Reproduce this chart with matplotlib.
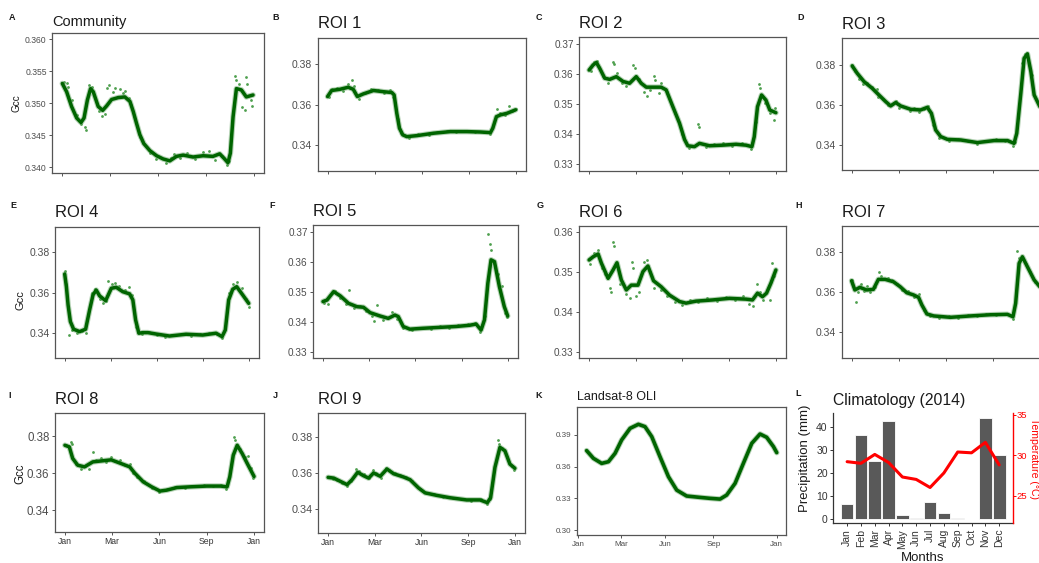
import matplotlib
matplotlib.use('Agg')
import matplotlib.pyplot as plt

plt.rcParams['font.family'] = ['Liberation Sans', 'DejaVu Sans']

# ---------------- data (x in months since Jan, 0..12) ----------------
x_tick_labels = ['Jan', 'Mar', 'Jun', 'Sep', 'Jan']

a_line_m = [0.0,0.27,0.58,0.90,1.17,1.36,1.57,1.77,1.94,2.25,2.53,2.78,3.09,3.51,3.92,4.24,4.45,4.65,4.86,5.11,5.49,5.91,6.32,6.74,7.16,7.58,8.20,8.83,9.45,9.87,10.18,10.39,10.54,10.71,10.92,11.23,11.54,11.96]
a_line_v = [0.3531,0.3518,0.3495,0.3477,0.3470,0.3477,0.3505,0.3523,0.3518,0.3495,0.3489,0.3496,0.3506,0.3509,0.3510,0.3503,0.3487,0.3469,0.3451,0.3437,0.3426,0.3418,0.3413,0.3410,0.3417,0.3419,0.3416,0.3418,0.3417,0.3421,0.3413,0.3407,0.3422,0.3479,0.3523,0.3521,0.3510,0.3513]
a_dot_m = [0.1,0.3,0.35,0.6,0.9,1.4,1.5,1.2,1.7,1.85,2.3,2.5,2.65,2.8,2.9,3.2,3.3,3.6,3.8,3.95,4.2,4.3,4.5,4.9,5.5,5.9,6.5,6.8,7.0,7.4,7.8,8.3,8.8,9.2,9.6,10.0,10.3,10.45,10.8,10.9,11.1,11.3,11.45,11.5,11.6,11.9,11.85]
a_dot_v = [0.3534,0.3532,0.3525,0.3505,0.3482,0.3463,0.3459,0.3468,0.3528,0.3526,0.3488,0.3480,0.3484,0.3524,0.3528,0.3517,0.3524,0.3523,0.3516,0.3520,0.3508,0.3498,0.3480,0.3447,0.3422,0.3413,0.3407,0.3414,0.3421,0.3414,0.3422,0.3413,0.3424,0.3426,0.3412,0.3418,0.3404,0.3410,0.3543,0.3537,0.3530,0.3495,0.3490,0.3541,0.3530,0.3496,0.3505]

b_line_m = [0,0.26,0.79,1.32,1.64,1.90,2.28,2.93,3.57,4.10,4.25,4.42,4.59,4.80,5.06,5.70,6.77,7.84,8.90,9.76,10.40,10.55,10.78,11.04,11.46,12.0]
b_line_v = [0.364,0.367,0.3676,0.3686,0.3676,0.364,0.3653,0.367,0.3664,0.366,0.3648,0.3557,0.3483,0.345,0.3441,0.3446,0.3458,0.3466,0.3466,0.3464,0.3461,0.3483,0.354,0.3549,0.3557,0.3574]
b_dot_m = [0.1,0.3,0.6,1.0,1.3,1.55,1.7,2.0,2.4,2.8,3.2,3.6,4.0,4.2,4.5,4.7,5.2,5.8,6.5,7.0,7.6,8.2,8.8,9.4,10.0,10.4,10.8,11.0,11.3,11.6,11.8,12.0]
b_dot_v = [0.3636,0.3675,0.3682,0.3668,0.3700,0.3722,0.3690,0.3630,0.3660,0.3678,0.3672,0.3656,0.3670,0.3640,0.3530,0.3460,0.3436,0.3452,0.3450,0.3464,0.3470,0.3462,0.3470,0.3462,0.3466,0.3452,0.3578,0.3560,0.3546,0.3592,0.3570,0.3580]

c_line_m = [0,0.26,0.47,0.68,1.0,1.32,1.75,2.18,2.60,3.03,3.35,3.67,4.10,4.63,4.95,5.38,5.81,6.13,6.34,6.77,7.09,7.73,8.58,9.44,10.08,10.46,10.61,10.82,11.08,11.36,11.61,12.0]
c_line_v = [0.3614,0.3631,0.3639,0.362,0.3587,0.3583,0.3592,0.3576,0.357,0.3592,0.357,0.3557,0.3557,0.3557,0.3548,0.3492,0.3437,0.3383,0.3362,0.3359,0.337,0.3362,0.3364,0.3367,0.3364,0.3359,0.3392,0.3492,0.3531,0.3514,0.3481,0.3472]
c_dot_m = [0.1,0.3,0.5,0.9,1.2,1.55,1.6,1.8,2.1,2.4,2.85,2.95,3.2,3.5,3.7,3.9,4.2,4.25,4.6,4.5,5.0,5.5,6.0,6.4,7.0,7.05,7.5,8.0,8.6,9.2,9.8,10.4,10.7,10.9,11.0,11.3,11.6,11.9,11.95]
c_dot_v = [0.3610,0.3640,0.3644,0.3595,0.3570,0.3640,0.3633,0.3605,0.3570,0.3562,0.3631,0.3620,0.3585,0.3540,0.3526,0.3548,0.3595,0.3580,0.3570,0.3538,0.3540,0.3470,0.3400,0.3355,0.3436,0.3426,0.3358,0.3368,0.3370,0.3362,0.3370,0.3352,0.3440,0.3567,0.3555,0.3505,0.3470,0.3448,0.3488]

d_line_m = [0.04,0.36,0.79,1.32,1.74,2.17,2.49,2.81,3.13,3.77,4.40,4.83,5.09,5.36,5.68,6.11,6.96,8.02,9.09,9.94,10.36,10.53,10.79,11.0,11.21,11.43,11.64,12.0]
d_line_v = [0.3795,0.3758,0.3717,0.3683,0.365,0.3617,0.3595,0.3612,0.3595,0.3578,0.3575,0.3588,0.3558,0.3475,0.3442,0.3428,0.3425,0.3412,0.3422,0.3422,0.3408,0.3458,0.3658,0.3833,0.3855,0.3767,0.365,0.3592]
d_dot_m = [0.05,0.2,0.5,0.7,1.0,1.3,1.6,1.7,2.0,2.3,2.6,2.8,3.0,3.4,3.7,4.0,4.3,4.6,4.85,5.2,5.6,6.2,6.8,7.4,8.0,8.6,9.2,9.8,10.3,10.4,10.85,11.05,11.2,11.5]
d_dot_v = [0.3800,0.3770,0.3730,0.3705,0.3710,0.3690,0.3678,0.3640,0.3630,0.3600,0.3605,0.3620,0.3585,0.3590,0.3570,0.3585,0.3565,0.3580,0.3595,0.3500,0.3435,0.3422,0.3432,0.3420,0.3405,0.3420,0.3430,0.3418,0.3395,0.3415,0.3810,0.3855,0.3860,0.3750]

e_line_m = [0,0.11,0.22,0.37,0.58,0.97,1.36,1.62,1.84,2.05,2.27,2.66,3.03,3.35,3.78,4.22,4.43,4.61,4.82,5.08,5.41,5.95,6.81,7.89,8.97,9.84,10.23,10.44,10.66,10.92,11.18,11.57,11.96]
e_line_v = [0.3692,0.3629,0.3538,0.3455,0.3417,0.3405,0.3417,0.3513,0.3588,0.3612,0.3583,0.3559,0.3621,0.3626,0.3604,0.3593,0.3563,0.3463,0.3397,0.34,0.34,0.3393,0.3383,0.3392,0.3388,0.3397,0.338,0.3413,0.3563,0.3616,0.3629,0.3588,0.3546]
e_dot_m = [0.03,0.1,0.3,0.5,0.8,1.1,1.4,1.8,2.0,2.3,2.5,2.7,2.8,3.1,3.3,3.55,3.9,4.2,4.35,4.65,5.0,5.5,6.0,6.5,7.0,7.6,8.2,8.8,9.4,9.9,10.2,10.7,10.95,11.2,11.5,11.8,11.95]
e_dot_v = [0.3705,0.3640,0.3388,0.3412,0.3400,0.3410,0.3400,0.3600,0.3618,0.3570,0.3550,0.3560,0.3659,0.3640,0.3645,0.3630,0.3610,0.3629,0.3590,0.3430,0.3395,0.3404,0.3388,0.3380,0.3390,0.3394,0.3385,0.3392,0.3396,0.3392,0.3372,0.3600,0.3640,0.3652,0.3620,0.3570,0.3530]

f_line_m = [0,0.26,0.69,1.12,1.66,2.20,2.63,3.06,3.70,4.24,4.67,4.89,5.21,5.64,6.50,7.58,8.66,9.52,9.95,10.27,10.49,10.71,10.92,11.14,11.46,11.78,12.0]
f_line_v = [0.3469,0.3474,0.3502,0.3488,0.3463,0.3452,0.345,0.3432,0.3421,0.3413,0.3424,0.3419,0.3386,0.3377,0.338,0.3383,0.3386,0.339,0.3394,0.3374,0.3408,0.353,0.3608,0.3602,0.3519,0.3452,0.3421]
f_dot_m = [0.05,0.3,0.6,0.8,1.1,1.66,1.5,2.0,2.4,2.8,3.2,3.5,3.3,3.9,4.3,4.5,4.8,5.2,5.8,6.4,7.0,7.6,8.2,8.8,9.4,9.9,10.2,10.5,10.75,10.82,10.9,11.1,11.4,11.6,11.8,11.95]
f_dot_v = [0.3465,0.3462,0.3498,0.3505,0.3480,0.3508,0.3460,0.3448,0.3455,0.3438,0.3420,0.3458,0.3405,0.3408,0.3418,0.3435,0.3412,0.3380,0.3374,0.3382,0.3378,0.3386,0.3382,0.3392,0.3395,0.3398,0.3368,0.3420,0.3694,0.3660,0.3640,0.3598,0.3560,0.3520,0.3430,0.3418]

g_line_m = [0,0.26,0.58,0.79,1.22,1.54,1.79,2.07,2.39,2.71,3.14,3.46,3.78,4.14,4.63,5.17,5.81,6.23,6.87,7.94,9.01,10.08,10.50,10.82,11.14,11.40,11.68,12.0]
g_line_v = [0.3531,0.3539,0.3546,0.3523,0.3485,0.3506,0.3524,0.3481,0.3456,0.3468,0.3468,0.3502,0.3516,0.3479,0.3464,0.3443,0.3427,0.3423,0.3428,0.3431,0.3435,0.3433,0.3431,0.3448,0.3439,0.3448,0.3473,0.3506]
g_dot_m = [0.05,0.3,0.55,0.8,1.0,1.35,1.4,1.55,1.6,1.7,2.0,2.4,2.6,2.75,2.8,3.0,3.2,3.5,3.7,3.9,4.2,4.6,5.0,5.5,6.0,6.5,7.0,7.6,8.2,8.8,9.4,9.9,10.3,10.5,10.8,11.0,11.2,11.6,11.75,11.9]
g_dot_v = [0.3520,0.3548,0.3555,0.3510,0.3495,0.3460,0.3450,0.3577,0.3565,0.3520,0.3470,0.3445,0.3435,0.3527,0.3510,0.3440,0.3450,0.3525,0.3531,0.3500,0.3460,0.3455,0.3440,0.3425,0.3418,0.3432,0.3425,0.3435,0.3428,0.3438,0.3430,0.3440,0.3420,0.3415,0.3470,0.3450,0.3432,0.3430,0.3524,0.3490]

h_line_m = [0,0.21,0.53,0.96,1.39,1.71,2.14,2.67,3.10,3.52,3.95,4.27,4.48,4.80,5.23,6.30,7.58,8.86,9.93,10.29,10.46,10.68,10.89,11.21,11.64,12.0]
h_line_v = [0.3658,0.3612,0.3625,0.3612,0.3615,0.3665,0.3665,0.3653,0.3628,0.3598,0.3587,0.3575,0.3537,0.3492,0.3482,0.3475,0.3482,0.3488,0.349,0.3478,0.3545,0.3745,0.3778,0.3728,0.3662,0.3628]
h_dot_m = [0.05,0.28,0.4,0.6,0.8,1.0,1.2,1.5,1.77,1.9,2.3,2.6,2.9,3.2,3.6,4.0,4.3,4.6,5.0,5.6,6.2,6.8,7.4,8.0,8.6,9.2,9.8,10.3,10.57,10.7,10.9,11.1,11.4,11.7]
h_dot_v = [0.3660,0.3553,0.3600,0.3640,0.3605,0.3630,0.3600,0.3625,0.3703,0.3680,0.3672,0.3660,0.3640,0.3610,0.3605,0.3575,0.3590,0.3510,0.3480,0.3470,0.3480,0.3470,0.3486,0.3480,0.3492,0.3485,0.3494,0.3468,0.3808,0.3770,0.3765,0.3740,0.3700,0.3650]

i_line_m = [0,0.28,0.49,0.81,1.24,1.77,2.30,2.94,3.47,4.11,4.43,4.97,5.50,6.03,6.46,7.10,7.95,9.01,9.87,10.29,10.46,10.68,10.93,11.25,11.57,12.0]
i_line_v = [0.3751,0.3742,0.368,0.3643,0.3634,0.3661,0.3666,0.3672,0.3655,0.3634,0.36,0.3553,0.3526,0.3503,0.3508,0.3522,0.3526,0.353,0.353,0.3526,0.358,0.3697,0.3751,0.3706,0.3652,0.3582]
i_dot_m = [0.05,0.2,0.38,0.45,0.7,1.0,1.3,1.5,1.81,2.0,2.3,2.6,2.9,3.2,3.5,3.8,4.1,4.3,4.6,5.0,5.5,6.0,6.5,7.0,7.6,8.2,8.8,9.4,9.9,10.2,10.72,10.8,11.1,11.4,11.6,11.8,11.95]
i_dot_v = [0.3755,0.3745,0.3770,0.3760,0.3650,0.3625,0.3640,0.3625,0.3712,0.3670,0.3680,0.3660,0.3685,0.3665,0.3670,0.3645,0.3650,0.3600,0.3580,0.3560,0.3520,0.3500,0.3512,0.3525,0.3522,0.3530,0.3535,0.3528,0.3535,0.3515,0.3796,0.3780,0.3730,0.3690,0.3695,0.3630,0.3575]

j_line_m = [0,0.36,0.79,1.22,1.54,1.90,2.28,2.60,2.92,3.35,3.78,4.21,4.85,5.27,5.81,6.23,6.98,7.84,8.90,9.76,10.23,10.44,10.72,11.04,11.36,11.68,12.0]
j_line_v = [0.3576,0.3572,0.3554,0.3536,0.3563,0.3604,0.3585,0.3572,0.36,0.3582,0.3622,0.3596,0.3578,0.3563,0.3518,0.3491,0.3477,0.3464,0.3452,0.3452,0.3437,0.3464,0.3631,0.3741,0.3722,0.3649,0.3626]
j_dot_m = [0.05,0.3,0.6,0.9,1.2,1.5,1.8,2.0,2.3,2.6,2.9,3.1,3.4,3.75,3.9,4.3,4.6,5.0,5.4,5.9,6.3,6.8,7.4,8.0,8.6,9.2,9.8,10.2,10.4,10.93,11.0,11.2,11.5,11.8,11.95]
j_dot_v = [0.3580,0.3565,0.3560,0.3545,0.3530,0.3555,0.3622,0.3610,0.3592,0.3570,0.3615,0.3600,0.3575,0.3630,0.3615,0.3600,0.3590,0.3580,0.3555,0.3510,0.3490,0.3482,0.3470,0.3460,0.3455,0.3448,0.3458,0.3430,0.3455,0.3782,0.3760,0.3740,0.3690,0.3640,0.3615]

k_line_m = [0.50,0.91,1.41,1.82,2.22,2.62,3.13,3.63,4.03,4.44,4.94,5.45,5.95,6.55,7.36,7.97,8.57,8.97,9.48,9.98,10.49,10.99,11.39,11.80,12.0]
k_line_v = [0.3752,0.3679,0.3631,0.3647,0.3726,0.3853,0.3963,0.4001,0.3979,0.3884,0.3694,0.3505,0.3378,0.3322,0.3309,0.3300,0.3293,0.3331,0.3442,0.3631,0.3821,0.3909,0.3878,0.3790,0.3733]

months = ['Jan','Feb','Mar','Apr','May','Jun','Jul','Aug','Sep','Oct','Nov','Dec']
precip_mm = [6.4, 36.4, 25.1, 42.6, 1.7, 0.3, 7.5, 2.8, 0.5, 0.0, 43.7, 27.6]
temp_c = [29.2, 29.0, 30.1, 29.1, 27.3, 27.0, 26.0, 27.8, 30.4, 30.3, 31.6, 28.8]

# ---------------- layout helpers ----------------
W, H = 1039, 563
fig = plt.figure(figsize=(W / 100, H / 100), dpi=100)
fig.patch.set_facecolor('white')


def add_ax(l, t, r, b):
    return fig.add_axes([l / W, 1 - b / H, (r - l) / W, (b - t) / H])


GRAY = '#4d4d4d'
GREEN = '#006400'


def style_box(ax, ysize):
    for s in ax.spines.values():
        s.set_color('#555555')
        s.set_linewidth(0.9)
    ax.tick_params(length=2.5, width=0.7, color='#555555', labelcolor=GRAY,
                   labelsize=ysize, pad=1.5)


def draw_roi(box, title, lm, lv, dm, dv, ylim, yticks, yfmt, ysize, show_x,
             tsize=12, tpad=6.8):
    ax = add_ax(*box)
    ax.scatter(dm, dv, s=4, color='#2f8f2f', alpha=0.85, lw=0, zorder=2)
    ax.plot(lm, lv, color='#5f9f5f', lw=4.0, alpha=0.45,
            solid_capstyle='round', solid_joinstyle='round', zorder=3)
    ax.plot(lm, lv, color=GREEN, lw=2.5,
            solid_capstyle='round', solid_joinstyle='round', zorder=4)
    ax.set_xlim(-0.63, 12.65)
    ax.set_ylim(*ylim)
    ax.set_yticks(yticks)
    ax.set_yticklabels([yfmt.format(v) for v in yticks])
    ax.set_xticks([0, 3, 6, 9, 12])
    style_box(ax, ysize)
    if show_x:
        ax.set_xticklabels(x_tick_labels)
        ax.tick_params(axis='x', labelsize=6.2, labelcolor='#333333')
    else:
        ax.set_xticklabels([])
    ax.set_title(title, loc='left', fontsize=tsize, pad=tpad, color='#1a1a1a')
    return ax


t3 = [0.34, 0.36, 0.38]
draw_roi((52.3, 33, 264, 173), 'Community', a_line_m, a_line_v, a_dot_m, a_dot_v,
         (0.3391, 0.3610), [0.340, 0.345, 0.350, 0.355, 0.360], '{:.3f}', 6.2, False,
         tsize=10.5, tpad=5)
draw_roi((317.7, 37.7, 525.7, 170.7), 'ROI 1', b_line_m, b_line_v, b_dot_m, b_dot_v,
         (0.3272, 0.3932), t3, '{:.2f}', 7.5, False)
draw_roi((579.3, 37.3, 786, 170.7), 'ROI 2', c_line_m, c_line_v, c_dot_m, c_dot_v,
         (0.3279, 0.3723), [0.33, 0.34, 0.35, 0.36, 0.37], '{:.2f}', 7.2, False)
draw_roi((841.7, 38.3, 1050, 170), 'ROI 3', d_line_m, d_line_v, d_dot_m, d_dot_v,
         (0.3275, 0.3933), t3, '{:.2f}', 7.5, False)
draw_roi((55, 226.7, 259.3, 358.3), 'ROI 4', e_line_m, e_line_v, e_dot_m, e_dot_v,
         (0.3272, 0.3928), t3, '{:.2f}', 7.5, False)
draw_roi((313.3, 225, 517.7, 358.3), 'ROI 5', f_line_m, f_line_v, f_dot_m, f_dot_v,
         (0.3280, 0.3724), [0.33, 0.34, 0.35, 0.36, 0.37], '{:.2f}', 7.2, False)
draw_roi((579.3, 226, 786, 358.3), 'ROI 6', g_line_m, g_line_v, g_dot_m, g_dot_v,
         (0.3285, 0.3616), [0.33, 0.34, 0.35, 0.36], '{:.2f}', 7.2, False)
draw_roi((841.7, 226, 1050, 358.3), 'ROI 7', h_line_m, h_line_v, h_dot_m, h_dot_v,
         (0.3270, 0.3932), t3, '{:.2f}', 7.5, False)
draw_roi((55, 413.3, 264.3, 531.7), 'ROI 8', i_line_m, i_line_v, i_dot_m, i_dot_v,
         (0.3283, 0.3924), t3, '{:.2f}', 8.3, True)
draw_roi((318.3, 413.3, 525, 532.7), 'ROI 9', j_line_m, j_line_v, j_dot_m, j_dot_v,
         (0.3272, 0.3928), t3, '{:.2f}', 7.8, True)

# ---- K: Landsat ----
axk = add_ax(576.7, 407.3, 786, 535)
axk.plot(k_line_m, k_line_v, color='#5f9f5f', lw=4.0, alpha=0.45,
         solid_capstyle='round', solid_joinstyle='round')
axk.plot(k_line_m, k_line_v, color=GREEN, lw=2.6,
         solid_capstyle='round', solid_joinstyle='round')
axk.set_xlim(-0.1, 12.56)
axk.set_ylim(0.2953, 0.4162)
axk.set_yticks([0.30, 0.33, 0.36, 0.39])
axk.set_yticklabels(['0.30', '0.33', '0.36', '0.39'])
axk.set_xticks([0, 2.58, 5.24, 8.17, 12])
axk.set_xticklabels(x_tick_labels)
style_box(axk, 5.8)
axk.tick_params(axis='x', labelsize=5.8)
axk.set_title('Landsat-8 OLI', loc='left', fontsize=9, pad=5.2, color='#1a1a1a')

# ---- L: Climatology ----
axl = add_ax(833.3, 413.3, 1013, 523.3)
mpos = list(range(1, 13))
axl.bar(mpos, precip_mm, width=0.92, color='#595959', edgecolor='white', linewidth=0.6)
axl.set_xlim(0.0, 13.0)
axl.set_ylim(-1.8, 45.8)
axl.set_yticks([0, 10, 20, 30, 40])
axl.set_xticks(mpos)
axl.set_xticklabels(months, rotation=90)
for s in ['top', 'right']:
    axl.spines[s].set_visible(False)
for s in ['left', 'bottom']:
    axl.spines[s].set_color('#333333')
    axl.spines[s].set_linewidth(0.9)
axl.tick_params(length=2.5, width=0.7, color='#333333', labelcolor='#333333',
                labelsize=7.5, pad=1.5)
axl.set_title('Climatology (2014)', loc='left', fontsize=11.3, pad=6, color='#1a1a1a')

axt = axl.twinx()
axt.plot(mpos, temp_c, color='red', lw=2.2, solid_joinstyle='round', solid_capstyle='round')
axt.set_ylim(21.56, 35.2)
axt.set_yticks([25, 30, 35])
for s in ['top', 'left', 'bottom']:
    axt.spines[s].set_visible(False)
axt.spines['right'].set_color('red')
axt.spines['right'].set_linewidth(1.0)
axt.tick_params(length=2.0, width=0.7, color='red', labelcolor='red', labelsize=6.8, pad=0.5)

fig.text(805 / W, 1 - 458 / H, 'Precipitation (mm)', rotation=90, ha='center', va='center',
         fontsize=9.5, color='#1a1a1a')
fig.text(923 / W, 1 - 558 / H, 'Months', ha='center', va='center', fontsize=9.5, color='#1a1a1a')
fig.text(1034.2 / W, 1 - 458 / H, 'Temperature (°C)', rotation=-90, ha='center', va='center',
         fontsize=7.6, color='red')

# ---- Gcc labels ----
for (x, y, fs) in [(16.7, 103.3, 7.2), (20, 299.7, 8), (20.7, 473.3, 8.3)]:
    fig.text(x / W, 1 - y / H, 'Gcc', rotation=90, ha='center', va='center',
             fontsize=fs, color='#1a1a1a')

# ---- panel letters ----
letters = [('A', 12, 18), ('B', 276, 18), ('C', 539, 18), ('D', 801, 18),
           ('E', 13, 206), ('F', 272, 206), ('G', 540, 206), ('H', 799, 206),
           ('I', 10, 395), ('J', 275, 395), ('K', 539, 395), ('L', 798, 393)]
for (t, x, y) in letters:
    fig.text(x / W, 1 - y / H, t, ha='center', va='center', fontsize=6.5,
             fontweight='bold', color='#1a1a1a')

fig.savefig('out.png', dpi=100, facecolor='white')
